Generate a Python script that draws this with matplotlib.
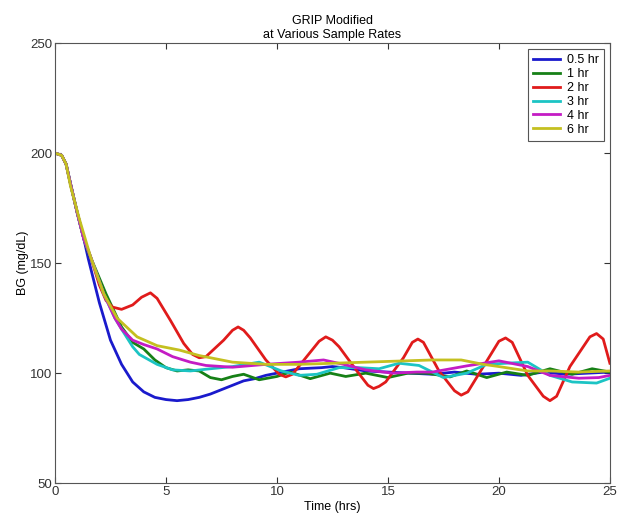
import matplotlib.pyplot as plt

plt.rcParams['font.family'] = ['Liberation Sans', 'DejaVu Sans']

# ── data ────────────────────────────────────────────────────────────────────
t_05 = [0, 0.3, 0.5, 0.7, 1.0, 1.3, 1.5, 2.0, 2.5, 3.0, 3.5, 4.0, 4.5, 5.0, 5.5, 6.0,
        6.5, 7.0, 7.5, 8.0, 8.5, 9.0, 9.5, 10, 11, 12, 12.5, 13, 14, 15, 16, 17, 18,
        19, 20, 21, 22, 23, 24, 25]
bg_05 = [200, 199, 195, 186, 173, 161, 152, 132, 115, 104, 96, 91.5, 89, 88, 87.5, 88,
         89, 90.5, 92.5, 94.5, 96.5, 97.5, 99, 100, 102, 102.5, 103, 102.5, 101, 100.5,
         100, 99.5, 100.5, 99.5, 100, 99, 100.5, 99.5, 100, 100.5]

t_1 = [0, 0.3, 0.5, 0.7, 1.0, 1.3, 1.5, 1.8, 2.3, 3.0, 3.5, 4.0, 4.5, 5.0, 5.5, 6.0, 6.5,
       7.0, 7.5, 8.0, 8.5, 9.2, 10.0, 10.6, 11.5, 12.4, 13.1, 14.0, 15.0, 15.9, 16.75,
       17.8, 18.55, 19.45, 20.35, 21.3, 22.3, 23.3, 24.2, 25]
bg_1 = [200, 199, 195, 186, 173, 161, 155, 148, 136, 121, 114, 111, 106, 102.5, 101,
        101.5, 101, 98, 97, 98.5, 99.5, 97, 98.5, 100.5, 97.5, 100, 98.5, 100, 98, 100,
        100, 98.3, 101, 98, 100.5, 99, 102, 99.5, 102, 100.5]

t_2 = [0, 0.3, 0.5, 0.7, 1.0, 1.3, 1.6, 2.0, 2.3, 2.6, 3.0, 3.5, 3.9, 4.3, 4.6, 5.2, 5.8,
       6.2, 6.5, 6.8, 7.6, 8.0, 8.25, 8.5, 8.8, 9.5, 10.1, 10.4, 10.7, 11.3, 11.9, 12.2,
       12.5, 12.8, 13.6, 14.1, 14.35, 14.6, 14.9, 15.7, 16.1, 16.35, 16.6, 17.3, 18.0,
       18.3, 18.6, 19.3, 20.0, 20.3, 20.6, 21.3, 22.0, 22.3, 22.6, 23.2, 24.1, 24.4,
       24.7, 25]
bg_2 = [200, 199, 195, 186, 173, 161, 153, 140, 133, 130, 129, 131, 134.5, 136.5, 134,
        124, 113.5, 108.5, 107, 107.5, 115, 119.5, 121, 119.5, 116, 106, 99.5, 98.3,
        99.5, 107, 114.5, 116.5, 115, 112, 101, 94.5, 93, 94, 96, 107, 114, 115.5, 114,
        101, 92, 90, 91.5, 103, 114.5, 116, 114, 99, 89.5, 87.5, 89.5, 103, 116.5, 118,
        115.5, 104.5]

t_3 = [0, 0.3, 0.5, 0.7, 1.0, 1.3, 1.6, 2.2, 2.7, 3.0, 3.5, 3.8, 4.6, 5.3, 6.1, 7.0, 8.0,
       9.2, 10.2, 11.0, 11.8, 12.8, 13.7, 14.6, 15.5, 16.4, 17.5, 18.55, 19.45, 20.3,
       21.3, 22.3, 23.3, 24.4, 25]
bg_3 = [200, 199, 195, 186, 173, 161, 153, 136, 125, 120, 112, 108.5, 104, 101.5, 101,
        102, 103, 105, 101, 99, 99.5, 102.5, 102.5, 102, 104.5, 103.5, 98, 100,
        104, 104.5, 105, 99, 96, 95.5, 97.7]

t_4 = [0, 0.3, 0.5, 0.7, 1.0, 1.3, 1.6, 2.2, 2.7, 3.0, 3.5, 4.0, 4.6, 5.3, 6.1, 6.8, 8.0,
       9.5, 11.0, 12.1, 13.0, 14.0, 15.2, 16.3, 17.0, 18.55, 20.0, 21.3, 22.3, 23.6,
       24.5, 25]
bg_4 = [200, 199, 195, 186, 173, 161, 153, 136, 125, 120, 115, 113, 111, 107.5, 105,
        103.5, 102.7, 104, 105, 106, 104, 101.5, 100, 100.5, 100.5, 103.3, 105.6, 103,
        99, 97.7, 98, 99]

t_6 = [0, 0.3, 0.5, 0.7, 1.1, 1.6, 2.2, 2.8, 3.7, 4.6, 5.6, 6.5, 8.0, 9.5, 11.0, 12.5,
       14.0, 15.5, 17.0, 18.3, 19.3, 20.0, 21.3, 22.3, 23.6, 25]
bg_6 = [200, 199, 195, 185, 170, 153, 136, 125, 116.5, 112.5, 110.5, 108, 105, 104,
        104, 104.5, 105, 105.5, 106, 106, 104, 103, 101, 101, 100.5, 101]

series = [
    ("0.5 hr", t_05, bg_05, "#1a1acc"),
    ("1 hr", t_1, bg_1, "#168016"),
    ("2 hr", t_2, bg_2, "#e01b1b"),
    ("3 hr", t_3, bg_3, "#1cc4c4"),
    ("4 hr", t_4, bg_4, "#c41cc4"),
    ("6 hr", t_6, bg_6, "#c4c020"),
]

# ── plot ────────────────────────────────────────────────────────────────────
fig = plt.figure(figsize=(6.32, 5.19), dpi=100)
ax = fig.add_axes([0.087, 0.069, 0.878, 0.848])

for label, t, bg, color in series:
    ax.plot(t, bg, color=color, lw=2, label=label, solid_joinstyle="round")

ax.set_xlim(0, 25)
ax.set_ylim(50, 250)
ax.set_xticks([0, 5, 10, 15, 20, 25])
ax.set_yticks([50, 100, 150, 200, 250])
ax.tick_params(direction="in", top=True, right=True, labelsize=9.5, length=4,
               colors="#333333", pad=2)
for sp in ax.spines.values():
    sp.set_color("#555555")
    sp.set_linewidth(0.8)

ax.set_xlabel("Time (hrs)", fontsize=9, labelpad=2)
ax.set_ylabel("BG (mg/dL)", fontsize=9, labelpad=1)
ax.set_title("GRIP Modified\nat Various Sample Rates", fontsize=9, pad=4)

leg = ax.legend(loc="upper right", fontsize=9, fancybox=False, framealpha=1,
                edgecolor="#555555", handlelength=2.2, labelspacing=0.15,
                borderpad=0.4, handletextpad=0.5)
leg.get_frame().set_linewidth(0.8)

plt.savefig("out.png", dpi=100)
